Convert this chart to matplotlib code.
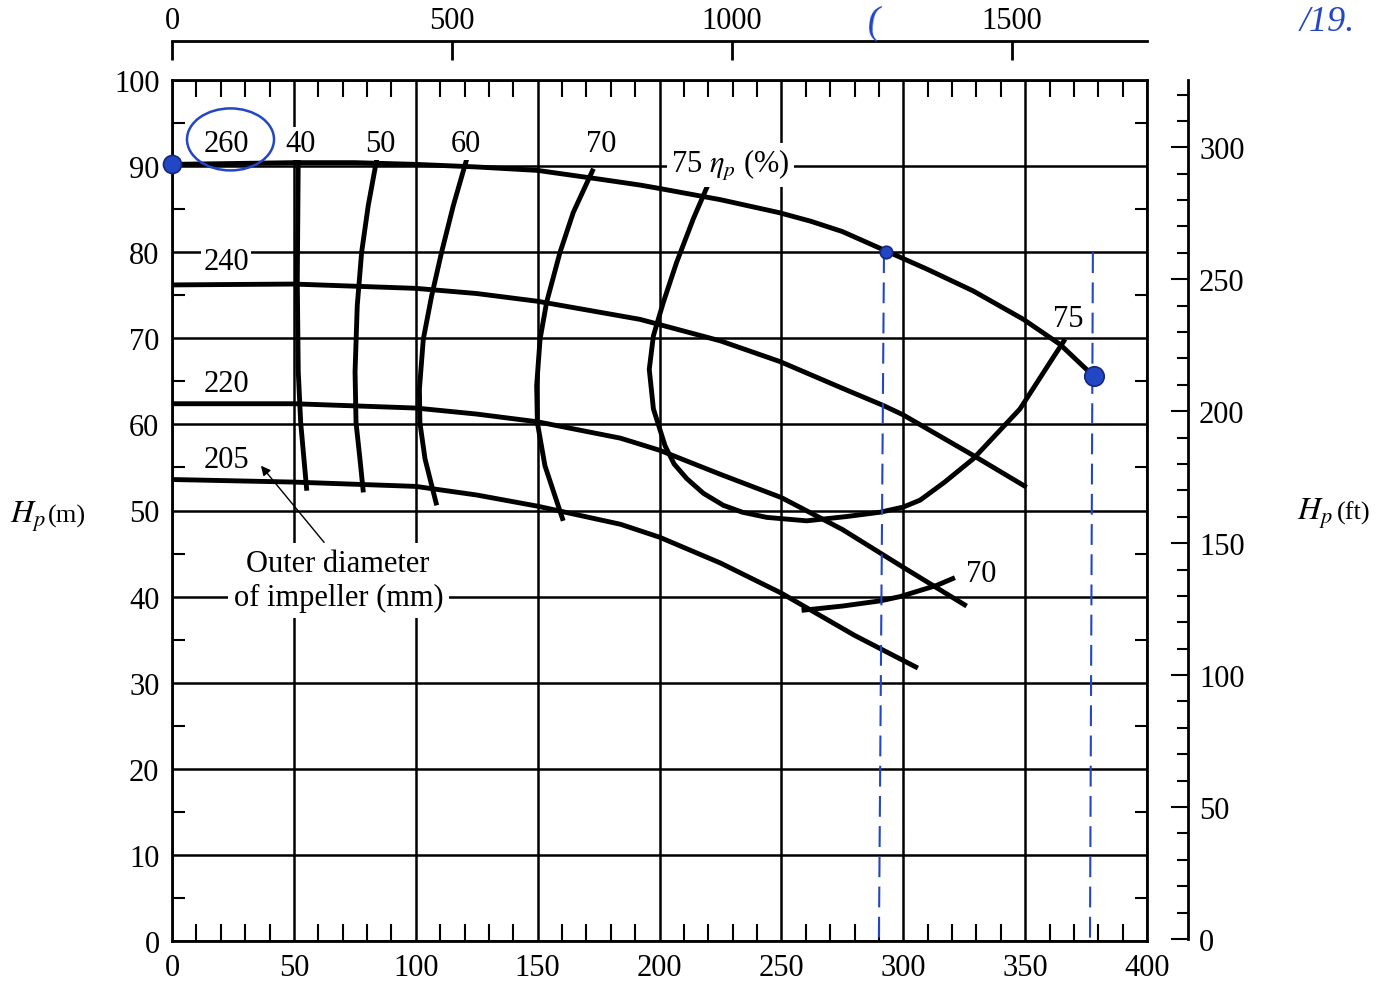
"""
Pump performance chart: head vs. flow for several impeller diameters,
with efficiency contours and hand-marked operating points.
"""

import matplotlib
matplotlib.use('Agg')
import matplotlib.pyplot as plt
from matplotlib.patches import Ellipse
from matplotlib.ticker import MultipleLocator

plt.rcParams['font.family'] = ['Liberation Serif', 'DejaVu Serif']
plt.rcParams['mathtext.fontset'] = 'stix'

# ---- head curves, Q in m^3/h, H in m ----
q_260 = [0, 25, 50, 75, 100, 125, 150, 175, 192, 200, 225, 249, 262, 275, 292.5, 310, 328.7, 349.3, 364.3, 377]
h_260 = [90.2, 90.3, 90.4, 90.4, 90.2, 89.9, 89.5, 88.5, 87.8, 87.4, 86.1, 84.6, 83.6, 82.4, 80.2, 78.0, 75.5, 72.2, 69.3, 65.9]

q_240 = [0, 50, 100, 125, 150, 192, 225, 249.4, 275, 291.8, 300, 328.7, 350.6]
h_240 = [76.2, 76.3, 75.8, 75.2, 74.3, 72.2, 69.7, 67.3, 64.2, 62.2, 61.1, 56.4, 52.7]

q_220 = [0, 50, 100, 125, 150, 184, 200, 225, 250, 275, 300, 326]
h_220 = [62.4, 62.4, 61.9, 61.2, 60.3, 58.4, 57.0, 54.2, 51.5, 47.8, 43.4, 38.9]

q_205 = [0, 50, 100, 125, 150, 184, 200, 225, 250, 280, 306]
h_205 = [53.6, 53.3, 52.8, 51.8, 50.5, 48.4, 46.9, 43.9, 40.4, 35.5, 31.7]

# ---- efficiency contours (%), listed top to bottom ----
q_eff40 = [51.8, 51.4, 51.8, 52.8, 55.3]
h_eff40 = [91.0, 76.5, 66.1, 60.2, 52.3]

q_eff50 = [84.0, 80.5, 77.8, 76.0, 75.1, 75.5, 77.1, 78.5]
h_eff50 = [90.8, 85.4, 80.0, 73.8, 66.1, 60.2, 56.0, 52.1]

q_eff60 = [121.1, 115.4, 110.6, 106.5, 103.1, 101.5, 101.7, 103.8, 108.6]
h_eff60 = [91.0, 85.4, 80.0, 74.9, 69.9, 64.1, 60.2, 56.0, 50.6]

q_eff70 = [172.9, 164.6, 159.2, 153.7, 151.0, 149.6, 149.9, 153.0, 160.5]
h_eff70 = [89.7, 84.6, 80.0, 74.2, 69.9, 64.5, 60.2, 55.2, 48.8]

q_eff75 = [220.0, 213.9, 207.0, 201.6, 197.5, 195.8, 197.5, 202.3, 206.0, 211.2, 218.0, 226.2, 234.0, 244.0,
           260.4, 276.8, 290.5, 300.0, 306.9, 317.0, 328.7, 347.9, 360.2, 366.4]
h_eff75 = [87.9, 83.9, 78.8, 74.2, 70.3, 66.4, 61.8, 57.5, 55.4, 53.7, 52.0, 50.6, 49.8, 49.2,
           48.8, 49.3, 49.8, 50.4, 51.2, 53.3, 56.0, 61.8, 67.2, 69.9]

q_eff70b = [258.3, 275.0, 290.5, 298.7, 313.7, 321.2]
h_eff70b = [38.4, 38.9, 39.5, 40.0, 41.3, 42.2]

# ---- curve labels (text, Q, H at baseline) ----
diam_labels = ['260', '240', '220', '205']
diam_q = [22.2, 22.2, 22.2, 22.2]
diam_h = [91.75, 78.05, 63.9, 55.05]

eff_labels = ['40', '50', '60', '70']
eff_q = [52.9, 85.3, 120.6, 176.0]
eff_h = [91.75, 91.75, 91.75, 91.75]

# ---- hand-marked points (blue) ----
mark_q = [0, 292.9, 378.3]
mark_h = [90.2, 80.0, 65.6]
mark_size = [13, 9, 14]
drop1_q = [292.1, 290.0]
drop2_q = [377.8, 376.6]
drop_h = [80.0, -0.6]

# ---- axis scales ----
gpm_ticks = [0, 500, 1000, 1500]
gpm_max = 1741   # top scale at Q = 400 m^3/h
ft_max = 325.5   # right scale at H = 100 m, as printed

W, H = 1382, 987
BLUE = '#2346c4'
FS = 22


def px_box(x0, y0, x1, y1):
    return [x0 / W, 1 - y1 / H, (x1 - x0) / W, (y1 - y0) / H]


def fig_xy(x, y):
    return x / W, 1 - y / H


fig = plt.figure(figsize=(W / 100, H / 100), dpi=100, facecolor='white')

# main chart
ax = fig.add_axes(px_box(172, 81, 1147, 942))
ax.set_xlim(0, 400)
ax.set_ylim(0, 100)
ax.xaxis.set_major_locator(MultipleLocator(50))
ax.xaxis.set_minor_locator(MultipleLocator(10))
ax.yaxis.set_major_locator(MultipleLocator(10))
ax.yaxis.set_minor_locator(MultipleLocator(5))
ax.set_axisbelow(True)
ax.grid(True, which='major', color='black', lw=1.8)
ax.tick_params(which='major', length=0, labelsize=FS)
ax.tick_params(axis='x', which='major', pad=9)
ax.tick_params(axis='y', which='major', pad=9)
ax.tick_params(which='minor', direction='in', top=True, right=True, width=1.5, color='black')
ax.tick_params(axis='x', which='minor', length=12)
ax.tick_params(axis='y', which='minor', length=9)
for sp in ax.spines.values():
    sp.set_linewidth(2)

curve_kw = dict(color='black', lw=3.5, solid_capstyle='butt', solid_joinstyle='round', zorder=3)
for q, h in [(q_260, h_260), (q_240, h_240), (q_220, h_220), (q_205, h_205),
             (q_eff40, h_eff40), (q_eff50, h_eff50), (q_eff60, h_eff60),
             (q_eff70, h_eff70), (q_eff75, h_eff75), (q_eff70b, h_eff70b)]:
    ax.plot(q, h, **curve_kw)

box = dict(facecolor='white', edgecolor='none', pad=1.5)
for t, q, h in zip(diam_labels, diam_q, diam_h):
    ax.text(q, h, t, fontsize=FS, ha='center', va='baseline', bbox=box, zorder=4)
for t, q, h in zip(eff_labels, eff_q, eff_h):
    ax.text(q, h, t, fontsize=FS, ha='center', va='baseline', bbox=box, zorder=4)

ax.text(204.7, 89.3, r'75 $\eta_p$ (%)', fontsize=FS, ha='left', va='baseline',
        bbox=dict(facecolor='white', edgecolor='none', pad=3), zorder=4)
ax.text(367.6, 71.4, '75', fontsize=FS, ha='center', va='baseline', zorder=4)
ax.text(332.0, 41.8, '70', fontsize=FS, ha='center', va='baseline', zorder=4)

ax.text(67.9, 43.0, 'Outer diameter', fontsize=FS, ha='center', va='baseline',
        bbox=dict(facecolor='white', edgecolor='none', pad=4), zorder=4)
ax.text(68.3, 39.0, 'of impeller (mm)', fontsize=FS, ha='center', va='baseline',
        bbox=dict(facecolor='white', edgecolor='none', pad=4), zorder=4)
ax.annotate('', xy=(36.5, 55.2), xytext=(62.4, 46.3),
            arrowprops=dict(arrowstyle='-|>', color='black', lw=1.0, mutation_scale=14,
                            shrinkA=0, shrinkB=0), zorder=4)

# hand annotations
ax.add_patch(Ellipse((24.0, 93.1), 35.7, 7.2, fill=False, ec=BLUE, lw=1.8, zorder=5))
for q, h, s in zip(mark_q, mark_h, mark_size):
    ax.plot(q, h, 'o', color=BLUE, mec='#15277a', mew=1.2, ms=s, zorder=6, clip_on=False)
for dq in (drop1_q, drop2_q):
    ax.plot(dq, drop_h, color=BLUE, lw=1.5, ls=(0, (10, 4.5)), zorder=5, clip_on=False)

# top scale (gpm)
axt = fig.add_axes(px_box(172, 42, 1147, 62))
axt.set_facecolor('none')
axt.set_xlim(0, gpm_max)
for k in ('bottom', 'left', 'right'):
    axt.spines[k].set_visible(False)
axt.spines['top'].set_linewidth(2)
axt.set_yticks([])
axt.xaxis.tick_top()
axt.set_xticks(gpm_ticks)
axt.tick_params(axis='x', direction='in', length=14, width=2, labelsize=FS, pad=4)

# right scale (ft)
axr = fig.add_axes(px_box(1150, 81, 1188, 940))
axr.set_facecolor('none')
axr.set_ylim(0, ft_max)
for k in ('bottom', 'left', 'top'):
    axr.spines[k].set_visible(False)
axr.spines['right'].set_linewidth(2)
axr.set_xticks([])
axr.yaxis.tick_right()
axr.yaxis.set_major_locator(MultipleLocator(50))
axr.yaxis.set_minor_locator(MultipleLocator(10))
axr.tick_params(axis='y', which='major', direction='in', length=12, width=1.5, labelsize=FS, pad=8)
axr.tick_params(axis='y', which='minor', direction='in', length=8, width=1.5)

# axis titles
fig.text(*fig_xy(10, 523), r'$H_p$', fontsize=23, ha='left', va='baseline')
fig.text(*fig_xy(48, 523), '(m)', fontsize=19, ha='left', va='baseline')
fig.text(*fig_xy(1297, 520), r'$H_p$', fontsize=23, ha='left', va='baseline')
fig.text(*fig_xy(1337, 520), '(ft)', fontsize=19, ha='left', va='baseline')

# handwriting scraps along the top edge
fig.text(*fig_xy(864, 34), '(', fontsize=28, color=BLUE, ha='left', va='baseline', rotation=-8)
fig.text(*fig_xy(1300, 31), '/19.', fontsize=26, color=BLUE, style='italic',
         ha='left', va='baseline')

fig.savefig('out.png', dpi=100, facecolor='white')
plt.close(fig)
